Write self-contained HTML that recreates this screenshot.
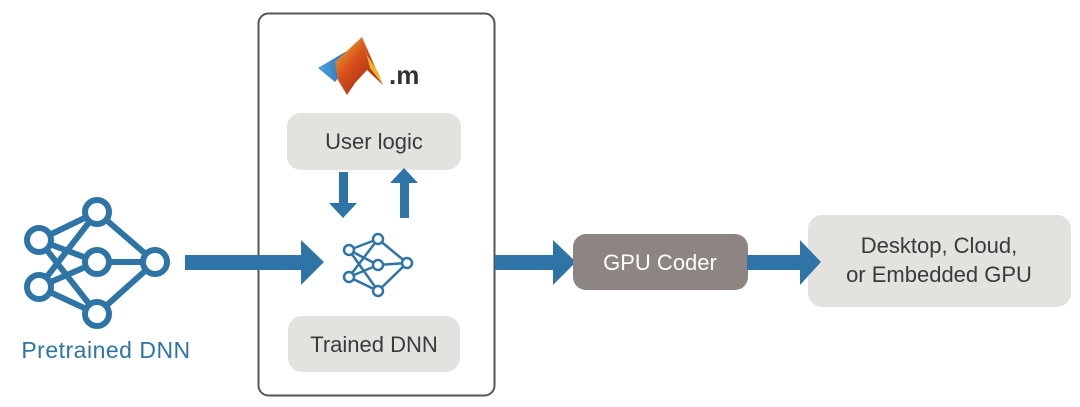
<!DOCTYPE html>
<html><head><meta charset="utf-8"><style>
html,body{margin:0;padding:0;background:#fff;}
svg{display:block;}
text{font-family:"Liberation Sans",sans-serif;}
</style></head><body>
<svg width="1080" height="407" viewBox="0 0 1080 407" xmlns="http://www.w3.org/2000/svg">
<defs>
<linearGradient id="peak" x1="0" y1="0" x2="1" y2="1">
<stop offset="0" stop-color="#f0c040"/><stop offset="0.4" stop-color="#d8501a"/><stop offset="1" stop-color="#8a2010"/>
</linearGradient>
<linearGradient id="blu" x1="0" y1="0" x2="1" y2="0">
<stop offset="0" stop-color="#4aa0e0"/><stop offset="1" stop-color="#2a6ab0"/>
</linearGradient>
</defs>
<rect x="258.5" y="13.5" width="236" height="382" rx="10" fill="none" stroke="#555" stroke-width="2"/>
<polygon points="318,68 345,52 352,62 335,82" fill="url(#blu)"/>
<polygon points="335,62 362,37 372,60 383,85 367,70 355,83 347,95 338,80" fill="url(#peak)"/>
<polygon points="362,37 367,55 378,72 383,85 370,68" fill="#f0b030"/>
<text x="389" y="84" font-size="26" font-weight="bold" fill="#333">.m</text>
<rect x="287" y="113" width="174" height="57" rx="14" fill="#e3e2de"/>
<text x="374" y="149" font-size="22" fill="#3a3a3a" text-anchor="middle">User logic</text>
<rect x="339" y="172" width="9" height="32" fill="#2e74a6"/>
<polygon points="329,203 357,203 343,218" fill="#2e74a6"/>
<rect x="400" y="182" width="9" height="36" fill="#2e74a6"/>
<polygon points="390,183 418,183 404,168" fill="#2e74a6"/>
<g stroke="#2e74a6" stroke-width="2.5" fill="none">
<line x1="349" y1="250" x2="378" y2="239"/><line x1="349" y1="250" x2="378" y2="265"/><line x1="349" y1="250" x2="378" y2="291"/>
<line x1="349" y1="277" x2="378" y2="239"/><line x1="349" y1="277" x2="378" y2="265"/><line x1="349" y1="277" x2="378" y2="291"/>
<line x1="378" y1="239" x2="407" y2="263"/><line x1="378" y1="265" x2="407" y2="263"/><line x1="378" y1="291" x2="407" y2="263"/>
</g>
<g stroke="#2e74a6" stroke-width="2.5" fill="#fff">
<circle cx="349" cy="250" r="5"/><circle cx="349" cy="277" r="5"/><circle cx="378" cy="239" r="5"/><circle cx="378" cy="265" r="5"/><circle cx="378" cy="291" r="5"/><circle cx="407" cy="263" r="5"/>
</g>
<rect x="288" y="316" width="172" height="56" rx="14" fill="#e3e2de"/>
<text x="374" y="352" font-size="22" fill="#3a3a3a" text-anchor="middle">Trained DNN</text>
<g stroke="#2e74a6" stroke-width="6" fill="none">
<line x1="39" y1="240" x2="97" y2="212"/><line x1="39" y1="240" x2="97" y2="262"/><line x1="39" y1="240" x2="97" y2="314"/>
<line x1="39" y1="287" x2="97" y2="212"/><line x1="39" y1="287" x2="97" y2="262"/><line x1="39" y1="287" x2="97" y2="314"/>
<line x1="97" y1="212" x2="155" y2="262"/><line x1="97" y1="262" x2="155" y2="262"/><line x1="97" y1="314" x2="155" y2="262"/>
</g>
<g stroke="#2e74a6" stroke-width="6" fill="#fff">
<circle cx="39" cy="240" r="12"/><circle cx="39" cy="287" r="12"/><circle cx="97" cy="212" r="12"/><circle cx="97" cy="262" r="12"/><circle cx="97" cy="314" r="12"/><circle cx="155" cy="262" r="12"/>
</g>
<text x="106" y="358" font-size="23" fill="#2e74a6" text-anchor="middle" letter-spacing="0.5">Pretrained DNN</text>
<rect x="185" y="255" width="118" height="15" fill="#2e74a6"/>
<polygon points="301,240 301,285 324,262" fill="#2e74a6"/>
<rect x="495" y="255" width="60" height="15" fill="#2e74a6"/>
<polygon points="553,240 553,285 576,262" fill="#2e74a6"/>
<rect x="573" y="234" width="175" height="56" rx="13" fill="#8c8582"/>
<text x="660" y="270" font-size="22" fill="#fff" text-anchor="middle">GPU Coder</text>
<rect x="808" y="215" width="263" height="92" rx="14" fill="#e3e2de"/>
<rect x="747" y="255" width="55" height="15" fill="#2e74a6"/>
<polygon points="800,240 800,285 821,262" fill="#2e74a6"/>
<text x="939" y="253" font-size="22" fill="#3a3a3a" text-anchor="middle">Desktop, Cloud,</text>
<text x="939" y="282" font-size="22" fill="#3a3a3a" text-anchor="middle">or Embedded GPU</text>
</svg>
</body></html>
